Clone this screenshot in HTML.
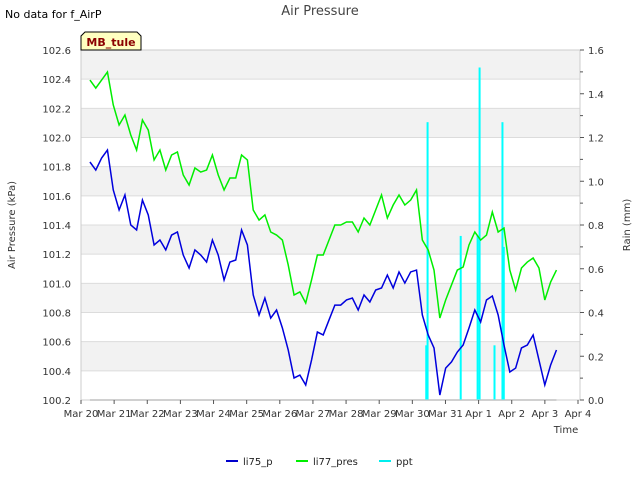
<!DOCTYPE html>
<html><head><meta charset="utf-8"><style>
body{margin:0;background:#fff;font-family:"Liberation Sans","DejaVu Sans",sans-serif;}
svg text{font-family:"DejaVu Sans","Liberation Sans",sans-serif;}
</style></head><body>
<svg id="c" width="640" height="480" xmlns="http://www.w3.org/2000/svg">
<text x="5" y="18" font-size="11" fill="#000">No data for f_AirP</text>
<text x="320" y="15" font-size="13" fill="#444" text-anchor="middle">Air Pressure</text>
<g id="plot"></g>
<g id="marks"></g>
<g id="axes"></g>
<g>
<path d="M81,50 L81,36 L85,32 L137,32 L141,36 L141,50 Z" fill="#ffffc0" stroke="#000" stroke-width="1"/>
<text x="111" y="46" font-size="11" font-weight="bold" fill="#8b0000" text-anchor="middle">MB_tule</text>
</g>
<text x="15" y="225" font-size="10" fill="#333" text-anchor="middle" transform="rotate(-90 15 225)">Air Pressure (kPa)</text>
<text x="630" y="225" font-size="10" fill="#333" text-anchor="middle" transform="rotate(-90 630 225)">Rain (mm)</text>
<text x="566" y="433" font-size="10" fill="#333" text-anchor="middle">Time</text>
<g>
<g><line x1="226" y1="461" x2="238" y2="461" stroke="#0000cc" stroke-width="2"/><text x="243" y="465" font-size="10" fill="#222">li75_p</text></g>
<g><line x1="296" y1="461" x2="308" y2="461" stroke="#00ee00" stroke-width="2"/><text x="313" y="465" font-size="10" fill="#222">li77_pres</text></g>
<g><line x1="379" y1="461" x2="391" y2="461" stroke="#00eeee" stroke-width="2"/><text x="396" y="465" font-size="10" fill="#222">ppt</text></g>
</g>
</svg>
<script>
const xTickLabels=["Mar 20","Mar 21","Mar 22","Mar 23","Mar 24","Mar 25","Mar 26","Mar 27","Mar 28","Mar 29","Mar 30","Mar 31","Apr 1","Apr 2","Apr 3","Apr 4"];
const yTicks=[100.2,100.4,100.6,100.8,101.0,101.2,101.4,101.6,101.8,102.0,102.2,102.4,102.6];
const y2Ticks=[0.0,0.2,0.4,0.6,0.8,1.0,1.2,1.4,1.6];
const seriesStart=0.27, seriesEnd=14.35;
const li75=[101.832,101.777,101.859,101.914,101.64,101.503,101.606,101.4,101.366,101.571,101.469,101.263,101.297,101.229,101.331,101.352,101.194,101.105,101.229,101.194,101.146,101.297,101.194,101.023,101.146,101.16,101.366,101.263,100.92,100.783,100.899,100.762,100.817,100.694,100.543,100.351,100.371,100.303,100.474,100.666,100.646,100.749,100.851,100.851,100.886,100.899,100.817,100.92,100.872,100.954,100.968,101.057,100.968,101.078,101.002,101.078,101.091,100.783,100.646,100.557,100.234,100.419,100.461,100.529,100.577,100.694,100.817,100.735,100.886,100.913,100.783,100.577,100.392,100.419,100.557,100.577,100.646,100.474,100.303,100.44,100.543];
const li77=[102.394,102.339,102.394,102.449,102.223,102.086,102.154,102.017,101.914,102.12,102.051,101.846,101.914,101.777,101.88,101.901,101.743,101.674,101.791,101.763,101.777,101.88,101.743,101.64,101.722,101.722,101.88,101.846,101.503,101.434,101.469,101.352,101.331,101.297,101.126,100.92,100.941,100.865,101.023,101.194,101.194,101.297,101.4,101.4,101.421,101.421,101.352,101.448,101.4,101.503,101.606,101.448,101.537,101.606,101.537,101.571,101.64,101.297,101.229,101.091,100.762,100.886,100.989,101.091,101.112,101.263,101.352,101.297,101.331,101.489,101.352,101.379,101.091,100.954,101.105,101.146,101.174,101.105,100.886,101.009,101.091];
const rainDays=[10.42,10.46,11.46,11.97,12.03,12.48,12.72,12.76];
const rainVals=[0.25,1.27,0.75,0.75,1.52,0.25,1.27,0.7];

const NS="http://www.w3.org/2000/svg";
const L=81,R=580,T=50,B=400;
const xs=d=>L+d*(578-81)/15;
const ys=v=>B-(v-100.2)/2.4*(B-T);
const y2s=v=>B-v/1.6*(B-T);
function mk(tag,attrs,parent){const e=document.createElementNS(NS,tag);for(const k in attrs)e.setAttribute(k,attrs[k]);parent.appendChild(e);return e;}
const plot=document.getElementById('plot'),marks=document.getElementById('marks'),axes=document.getElementById('axes');
for(let i=0;i<yTicks.length-1;i++){
  const band=mk('rect',{x:L,y:ys(yTicks[i+1]),width:R-L,height:ys(yTicks[i])-ys(yTicks[i+1]),fill:(yTicks.length-2-i)%2===0?'#f2f2f2':'#ffffff'},plot);
  
  
  const gl=mk('line',{x1:L,x2:R,y1:ys(yTicks[i]),y2:ys(yTicks[i]),stroke:'#dcdcdc','stroke-width':1},plot);
  
  
}
const frame=mk('rect',{x:L,y:T,width:R-L,height:B-T,fill:'none',stroke:'#cccccc'},axes);


const n=li75.length;
const dayAt=i=>seriesStart+(seriesEnd-seriesStart)*i/(n-1);
const base=mk('line',{x1:xs(seriesStart),x2:xs(seriesEnd),y1:y2s(0),y2:y2s(0),stroke:'#aaaaaa','stroke-width':1.5},marks);


rainDays.forEach((d,i)=>{
  const b=mk('rect',{x:xs(d)-1,y:y2s(rainVals[i]),width:2,height:y2s(0)-y2s(rainVals[i]),fill:'#00ffff'},marks);
  
  
});
const p1=mk('polyline',{points:li75.map((v,i)=>xs(dayAt(i))+','+ys(v)).join(' '),fill:'none',stroke:'#0000dd','stroke-width':1.5},marks);


const p2=mk('polyline',{points:li77.map((v,i)=>xs(dayAt(i))+','+ys(v)).join(' '),fill:'none',stroke:'#00ee00','stroke-width':1.5},marks);


yTicks.forEach(v=>{
  const t=mk('text',{x:L-10,y:ys(v)+4,'font-size':10,fill:'#333','text-anchor':'end'},axes);t.textContent=v.toFixed(1);
  
  
});
y2Ticks.forEach(v=>{
  const t=mk('text',{x:R+8,y:y2s(v)+4,'font-size':10,fill:'#333'},axes);t.textContent=v.toFixed(1);
  
  
  mk('line',{x1:R,x2:R+4,y1:y2s(v),y2:y2s(v),stroke:'#555'},axes);
  if(v<1.6) mk('line',{x1:R,x2:R+3,y1:y2s(v+0.1),y2:y2s(v+0.1),stroke:'#555'},axes);
});
xTickLabels.forEach((s,i)=>{
  mk('line',{x1:xs(i),x2:xs(i),y1:B,y2:B+4,stroke:'#555'},axes);
  const t=mk('text',{x:xs(i),y:B+17,'font-size':10,fill:'#333','text-anchor':'middle'},axes);t.textContent=s;
  
  
});
</script>
</body></html>
